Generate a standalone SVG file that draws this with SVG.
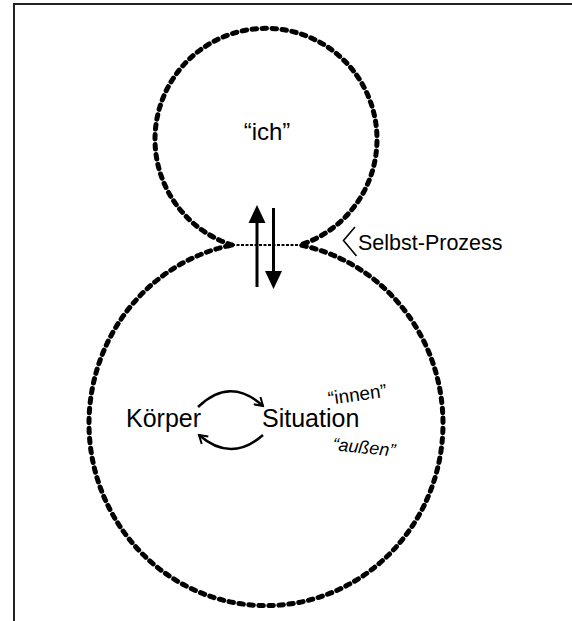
<svg xmlns="http://www.w3.org/2000/svg" width="572" height="621" viewBox="0 0 572 621">
<defs>
<style>
.frame{fill:none;stroke:#222;stroke-width:2}
.outline{fill:none;stroke:#000;stroke-width:5;stroke-linecap:round;stroke-dasharray:4.5 5.5}
.seam{fill:none;stroke:#000;stroke-width:2;stroke-dasharray:3 1.5}
.shaft{fill:none;stroke:#000;stroke-width:3}
.arc{fill:none;stroke:#000;stroke-width:2.5}
.t{font-family:"Liberation Sans",Arial,sans-serif;fill:#000}
</style>
<marker id="chev" viewBox="0 0 12 12" refX="10" refY="6" markerWidth="12" markerHeight="12" markerUnits="userSpaceOnUse" orient="auto">
<path d="M2,1 L10,6 L2,11" fill="none" stroke="#000" stroke-width="2"/>
</marker>
</defs>
<rect width="572" height="621" fill="#fff"/>
<path class="frame" d="M14,621 V4 H572"/>
<g id="shape">
<path class="outline" d="M232,245 A111,111 0 1 1 300,245 A177,182 0 1 1 232,245"/>
<line class="seam" x1="232" y1="245" x2="300" y2="245"/>
</g>
<g id="node-ich">
<text class="t" x="267" y="140" font-size="24" text-anchor="middle">“ich”</text>
</g>
<g id="node-selbst">
<path d="M355,227 L343.5,240.5 L356.5,256" fill="none" stroke="#000" stroke-width="1.6"/>
<text class="t" x="358" y="250" font-size="21.5">Selbst-Prozess</text>
</g>
<g id="node-koerper">
<text class="t" x="126" y="427" font-size="25">Körper</text>
</g>
<g id="node-situation">
<text class="t" x="262" y="427" font-size="25">Situation</text>
</g>
<g id="node-innen">
<text class="t" x="329" y="405" font-size="19" transform="rotate(-8 329 405)">“innen”</text>
</g>
<g id="node-aussen">
<text class="t" x="332" y="450" font-size="18" font-style="italic" transform="rotate(6 332 450)">“außen”</text>
</g>
<g id="connectors">
<line class="shaft" x1="257" y1="287" x2="257" y2="220"/>
<polygon points="257,205 248.5,223 265.5,223" fill="#000"/>
<line class="shaft" x1="273.5" y1="208" x2="273.5" y2="273"/>
<polygon points="273.5,289 265,271 282,271" fill="#000"/>
<path class="arc" d="M198,407 Q230,376 263,406" marker-end="url(#chev)"/>
<path class="arc" d="M263,435 Q231,463 199,435" marker-end="url(#chev)"/>
</g>
</svg>
